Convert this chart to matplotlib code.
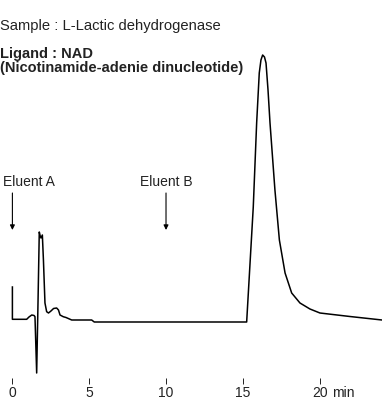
import numpy as np
import matplotlib
matplotlib.use('Agg')
import matplotlib.pyplot as plt

plt.rcParams['font.family'] = ['Liberation Sans', 'DejaVu Sans']

# elution time (min) and detector response (arbitrary units)
time_min = [0.0, 0.0, 0.93, 1.08, 1.26, 1.41, 1.47, 1.58, 1.67, 1.75, 1.81, 1.86,
            1.95, 2.02, 2.12, 2.23, 2.35, 2.51, 2.68, 2.88, 3.0, 3.10, 3.31, 3.49,
            3.86, 5.16, 5.33,
            15.25, 15.68, 15.9, 16.07, 16.18, 16.29, 16.41, 16.51, 16.64, 16.77,
            17.09, 17.38, 17.75, 18.18, 18.72, 19.37, 20.02, 21.97, 24.06]
response = [35, 2.7, 2.7, 5, 7, 6.5, 5.3, -51, 22, 90, 86, 84,
            87, 62, 19, 10.3, 9, 11, 13.5, 14, 12, 7, 5.3, 4.5,
            2, 2, 0,
            0, 115, 199, 249, 262, 267, 265, 259, 232, 199,
            132, 82, 49, 29, 19, 13, 9, 5.5, 2]

tick_pos = [0, 5, 10, 15, 20]
eluent_labels = ['Eluent A', 'Eluent B']
eluent_times = [0, 10]

fig = plt.figure(figsize=(3.82, 4.01), dpi=100)
ax = fig.add_axes([0, 0.0424, 1, 0.9576])
ax.plot(time_min, response, color='black', lw=1.1, solid_joinstyle='round')

ax.set_xlim(-0.807, 24.06)
ax.set_ylim(-62, 322)
for s in ax.spines.values():
    s.set_visible(False)
ax.set_yticks([])
ax.set_xticks(tick_pos)
ax.set_xticklabels([str(t) for t in tick_pos])
ax.tick_params(axis='x', direction='in', length=4.3, width=0.7, pad=1.5,
               labelsize=10, colors='#222222')
ax.annotate('min', xy=(20.8, 0), xycoords=ax.get_xaxis_transform(),
            xytext=(0, -1.5), textcoords='offset points', ha='left', va='top',
            fontsize=10, color='#222222')

# eluent markers
ax.annotate(eluent_labels[0], xy=(eluent_times[0], 92), xytext=(-0.61, 140),
            ha='left', va='center', fontsize=10, color='#222222')
ax.annotate(eluent_labels[1], xy=(eluent_times[1], 92), xytext=(10.0, 140),
            ha='center', va='center', fontsize=10, color='#222222')
for t in eluent_times:
    ax.annotate('', xy=(t, 92), xytext=(t, 129),
                arrowprops=dict(arrowstyle='-|>', lw=0.8, color='black',
                                mutation_scale=7, shrinkA=0, shrinkB=0))

fig.text(0.0, 0.9526, 'Sample : L-Lactic dehydrogenase', ha='left', va='top',
         fontsize=10.6, color='#222222')
fig.text(0.0, 0.884, 'Ligand : NAD', ha='left', va='top', fontsize=10.5,
         fontweight='bold', color='#222222')
fig.text(0.0, 0.849, '(Nicotinamide-adenie dinucleotide)', ha='left', va='top',
         fontsize=10.5, fontweight='bold', color='#222222')

fig.savefig('out.png', dpi=100)
